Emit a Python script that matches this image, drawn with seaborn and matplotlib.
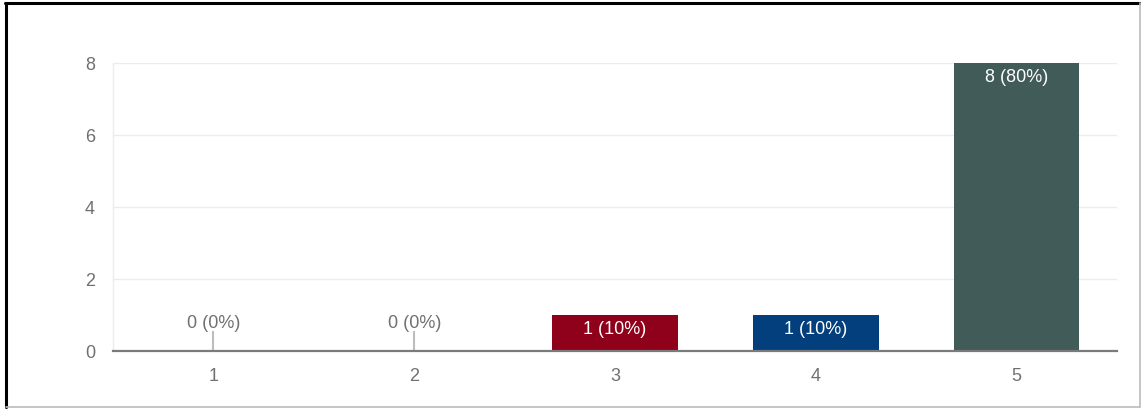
import matplotlib
matplotlib.use("Agg")
import matplotlib.pyplot as plt
from matplotlib.lines import Line2D
import seaborn as sns
import pandas as pd

categories = ["1", "2", "3", "4", "5"]
counts = [0, 0, 1, 1, 8]
percents = [0, 0, 10, 10, 80]
bar_colors = ["#9e9e9e", "#9e9e9e", "#8f001a", "#033f7d", "#405b58"]
y_ticks = [0, 2, 4, 6, 8]

sns.set_theme(style="white")
plt.rcParams["font.family"] = ["Liberation Sans", "DejaVu Sans"]

df = pd.DataFrame({"cat": categories, "count": counts})

W, H = 1141, 409
fig = plt.figure(figsize=(W / 100, H / 100), dpi=100)
fig.patch.set_facecolor("white")
ax = fig.add_axes([113 / W, 58 / H, (1117 - 113) / W, (351 - 63) / H])

sns.barplot(data=df, x="cat", y="count", hue="cat", order=categories,
            hue_order=categories, palette=bar_colors, width=0.625,
            legend=False, ax=ax, saturation=1, edgecolor="none")

ax.set_xlim(-0.5, len(categories) - 0.5)
ax.set_ylim(0, 8)
ax.set_yticks(y_ticks)
ax.set_xlabel("")
ax.set_ylabel("")
ax.yaxis.grid(True, color="#ececec", linewidth=1)
ax.set_axisbelow(True)
ax.tick_params(axis="both", length=0, labelsize=13, colors="#707070")
ax.tick_params(axis="y", pad=13)
ax.tick_params(axis="x", pad=12)

for s in ["top", "right"]:
    ax.spines[s].set_visible(False)
ax.spines["left"].set_color("#ececec")
ax.spines["left"].set_linewidth(1)
ax.spines["bottom"].set_color("#7a7a7a")
ax.spines["bottom"].set_linewidth(1.6)
ax.spines["bottom"].set_zorder(5)

for i, (c, p) in enumerate(zip(counts, percents)):
    label = f"{c} ({p}%)"
    if c == 0:
        ax.vlines(i, 0, 0.55, color="#bdbdbd", linewidth=1.5, zorder=3)
        ax.annotate(label, (i, 0), xytext=(0, 28), textcoords="offset pixels",
                    ha="center", va="center", fontsize=13, color="#707070")
    else:
        ax.annotate(label, (i, c), xytext=(0, -14), textcoords="offset pixels",
                    ha="center", va="center", fontsize=13, color="white")

# outer frame (screenshot border)
fig.add_artist(Line2D([6 / W, 6 / W], [2 / H, 1 - 3 / H], color="black",
                      linewidth=2.2, transform=fig.transFigure))
fig.add_artist(Line2D([5 / W, 1 - 1 / W], [1 - 3 / H, 1 - 3 / H], color="black",
                      linewidth=2.2, transform=fig.transFigure))
fig.add_artist(Line2D([1 - 1.5 / W, 1 - 1.5 / W], [2 / H, 1 - 3 / H], color="#bbbbbb",
                      linewidth=1.2, transform=fig.transFigure))
fig.add_artist(Line2D([6 / W, 1 - 1 / W], [2 / H, 2 / H], color="#bbbbbb",
                      linewidth=1.2, transform=fig.transFigure))

fig.savefig("out.png", dpi=100, facecolor="white")
